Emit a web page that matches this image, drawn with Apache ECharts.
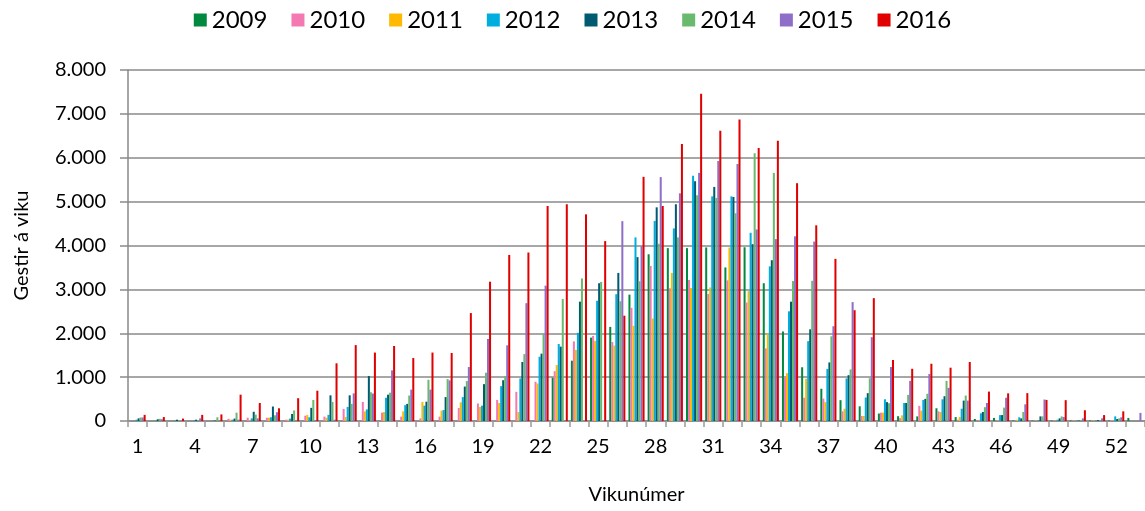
<!DOCTYPE html>
<html>
<head>
<meta charset="utf-8">
<script src="https://cdn.jsdelivr.net/npm/echarts@6/dist/echarts.min.js"></script>
<style>
  html, body { margin: 0; padding: 0; background: #fff; }
  #chart { width: 1145px; height: 511px; }
</style>
</head>
<body>
<div id="chart"></div>
<script>
const FONT = 'Lato, "Open Sans", sans-serif';

const weeks = Array.from({ length: 53 }, (_, i) => String(i + 1));
const years = ["2009", "2010", "2011", "2012", "2013", "2014", "2015", "2016"];
const colors = ["#00893F", "#F478B2", "#FFB900", "#00ADDF", "#005A72", "#6ABA6E", "#8E6EC8", "#E00000"];

// visitors per week
const y2009 = [0,0,0,0,0,0,0,0,0,0, 0,0,0,0,0,0,0,0,0,0, 0,0,985,1375,1900,2145,2880,3800,3940,3940, 3955,3500,3960,3140,2040,1225,735,475,335,170, 110,105,290,90,45,70,10,10,10,10, 10,10,70];
const y2010 = [0,0,0,0,0,50,75,75,30,120, 100,275,435,190,100,60,100,295,400,480, 665,895,1135,1815,1940,1800,2580,3535,3025,3215, 2895,3205,2700,1655,1010,530,510,220,115,190, 65,345,220,30,10,10,10,10,15,10, 10,20,0];
const y2011 = [0,0,0,0,0,30,20,75,30,140, 75,90,220,205,220,435,235,425,320,410, 205,855,1275,1620,1825,1720,2170,2335,3375,3030, 3045,3955,2960,1990,1090,965,430,280,115,190, 130,235,205,90,10,10,30,10,10,10, 10,10,0];
const y2012 = [30,10,10,10,10,30,60,85,55,85, 140,320,265,530,360,350,250,545,350,795, 970,1465,1755,2010,2740,2890,4185,4560,4390,5590, 5120,5120,4290,3525,2500,1820,1185,970,535,495, 410,480,495,280,175,135,85,15,30,10, 10,105,0];
const y2013 = [60,40,30,30,10,55,210,330,160,300, 585,585,1025,600,390,440,545,785,840,930, 1345,1535,1695,2720,3140,3375,3735,4870,4940,5465, 5335,5105,4030,3665,2720,2090,1335,1045,635,430, 410,505,565,465,205,135,60,105,60,10, 20,45,0];
const y2014 = [80,50,10,20,85,190,145,130,240,480, 435,390,655,645,580,940,955,910,1100,1020, 1525,1990,2780,3250,3170,2730,3185,4040,4185,5145, 5085,4735,6105,5655,3190,3195,1930,1175,975,405, 595,620,915,580,315,305,205,105,105,20, 10,60,0];
const y2015 = [80,40,10,60,10,30,60,200,10,20, 30,630,625,1155,715,715,925,1230,1870,1725, 2685,3085,0,0,0,4555,3985,5560,5190,5655, 5925,5855,4365,4145,4210,4090,2160,2710,1910,1230, 915,1070,755,465,410,530,380,490,90,60, 60,85,185];
const y2016 = [140,90,55,140,150,600,410,290,520,690, 1315,1730,1560,1710,1435,1560,1550,2460,3175,3785, 3840,4900,4940,4710,4100,2400,5565,4900,6315,7460, 6615,6870,6220,6390,5420,4460,3695,2525,2800,1390, 1190,1305,1215,1345,670,630,635,480,475,245, 135,220,0];

const yValues = [y2009, y2010, y2011, y2012, y2013, y2014, y2015, y2016];

const chart = echarts.init(document.getElementById("chart"), null, { renderer: "canvas" });

const series = years.map((name, i) => ({
  name,
  type: "bar",
  data: yValues[i].map((v) => (v === 0 ? null : v)),
  barGap: "0%",
  barCategoryGap: "16%",
  itemStyle: { color: colors[i] },
  animation: false,
}));

chart.setOption({
  backgroundColor: "#fff",
  color: colors,
  textStyle: { fontFamily: FONT, color: "#000" },
  legend: {
    top: 3,
    left: "center",
    itemWidth: 13,
    itemHeight: 13,
    itemGap: 24,
    icon: "rect",
    textStyle: { fontSize: 24, fontFamily: FONT, color: "#000" },
  },
  grid: { left: 128, right: 0, top: 70, bottom: 90 },
  xAxis: {
    type: "category",
    data: weeks,
    name: "Vikunúmer",
    nameLocation: "middle",
    nameGap: 64,
    nameTextStyle: { fontSize: 20, fontFamily: FONT, color: "#000" },
    axisLine: { lineStyle: { color: "#8a8a8a", width: 1.5 } },
    axisTick: { show: true, interval: 0, length: 6, lineStyle: { color: "#9a9a9a", width: 1.5 } },
    axisLabel: { interval: 2, margin: 16, fontSize: 20, color: "#000", fontFamily: FONT },
  },
  yAxis: {
    type: "value",
    min: 0,
    max: 8000,
    interval: 1000,
    name: "Gestir á viku",
    nameLocation: "middle",
    nameGap: 96,
    nameTextStyle: { fontSize: 20, fontFamily: FONT, color: "#000" },
    axisLine: { show: true, lineStyle: { color: "#8a8a8a", width: 1.5 } },
    axisTick: { show: true, length: 8, lineStyle: { color: "#8a8a8a", width: 1.5 } },
    axisLabel: {
      margin: 22,
      fontSize: 20,
      color: "#000",
      fontFamily: FONT,
      formatter: (v) => (v === 0 ? "0" : v / 1000 + ".000"),
    },
    splitLine: { lineStyle: { color: "#8a8a8a", width: 1.5 } },
  },
  series,
});
</script>
</body>
</html>
